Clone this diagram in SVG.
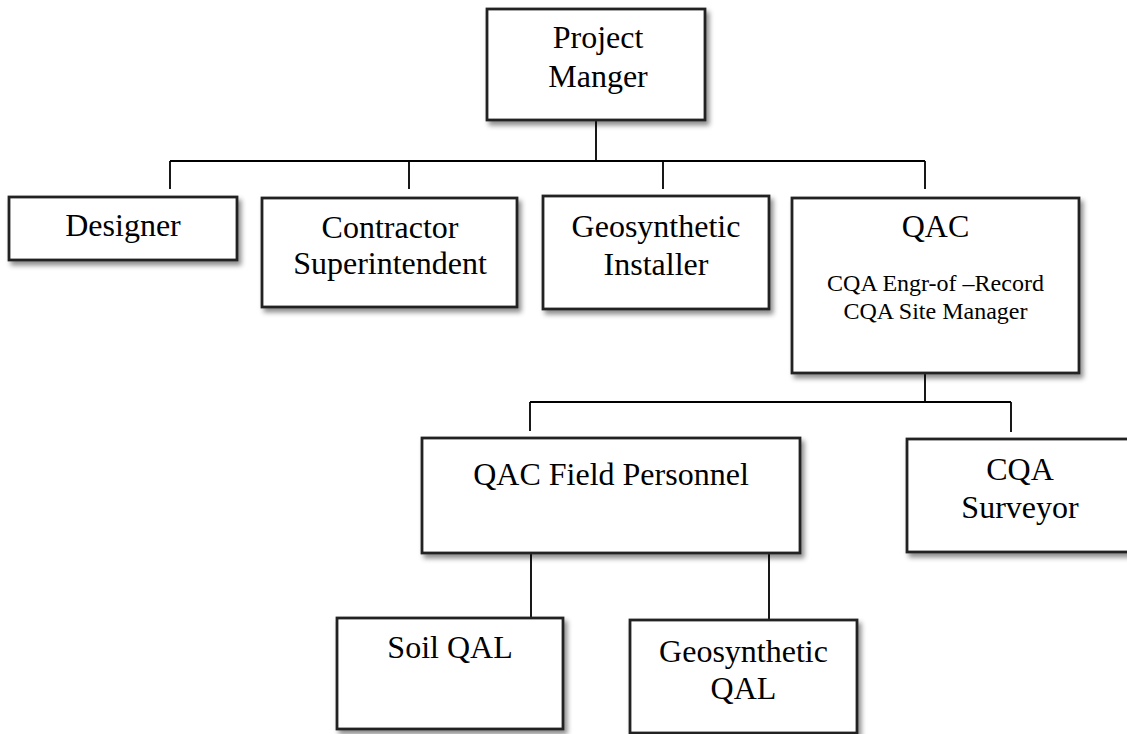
<svg xmlns="http://www.w3.org/2000/svg" width="1127" height="734" viewBox="0 0 1127 734">
<style>
.box{fill:#fff;stroke:#222;stroke-width:2.8;filter:url(#sh)}
.t{font-family:"Liberation Serif","Times New Roman",serif;font-size:32px;fill:#000;text-anchor:middle}
.s{font-family:"Liberation Serif","Times New Roman",serif;font-size:24px;fill:#000;text-anchor:middle}
.c{fill:none;stroke:#000;stroke-width:1.8}
</style>
<defs>
<filter id="sh" x="-10%" y="-10%" width="130%" height="140%">
<feDropShadow dx="3" dy="4" stdDeviation="2.5" flood-color="#000" flood-opacity="0.45"/>
</filter>
</defs>
<rect width="1127" height="734" fill="#fff"/>
<g id="connectors">
<path class="c" d="M596 120V161M170 161H925M170 161V189M409 161V189M663 161V189M925 161V189"/>
<path class="c" d="M925 373V402M530 402H1011M530 402V431M1011 402V432"/>
<path class="c" d="M531 553V618M769 553V620"/>
</g>
<g id="project-manager">
<rect class="box" x="487" y="9" width="218" height="111"/>
<text class="t" x="598" y="48">Project</text>
<text class="t" x="598" y="87">Manger</text>
</g>
<g id="designer">
<rect class="box" x="9" y="197" width="228" height="63"/>
<text class="t" x="123" y="236">Designer</text>
</g>
<g id="contractor">
<rect class="box" x="262" y="198" width="255" height="109"/>
<text class="t" x="390" y="238">Contractor</text>
<text class="t" x="390" y="274">Superintendent</text>
</g>
<g id="installer">
<rect class="box" x="543" y="196" width="226" height="113"/>
<text class="t" x="656" y="237">Geosynthetic</text>
<text class="t" x="656" y="275">Installer</text>
</g>
<g id="qac">
<rect class="box" x="792" y="198" width="287" height="175"/>
<text class="t" x="935.5" y="237">QAC</text>
<text class="s" x="935.5" y="291">CQA Engr-of –Record</text>
<text class="s" x="935.5" y="319">CQA Site Manager</text>
</g>
<g id="field-personnel">
<rect class="box" x="422" y="438" width="378" height="115"/>
<text class="t" x="611" y="485">QAC Field Personnel</text>
</g>
<g id="surveyor">
<rect class="box" x="907" y="439" width="226" height="113"/>
<text class="t" x="1020" y="480">CQA</text>
<text class="t" x="1020" y="518">Surveyor</text>
</g>
<g id="soil-qal">
<rect class="box" x="337" y="618" width="226" height="111"/>
<text class="t" x="450" y="658">Soil QAL</text>
</g>
<g id="geo-qal">
<rect class="box" x="630" y="620" width="227" height="113"/>
<text class="t" x="743.5" y="662">Geosynthetic</text>
<text class="t" x="743.5" y="699">QAL</text>
</g>
</svg>
